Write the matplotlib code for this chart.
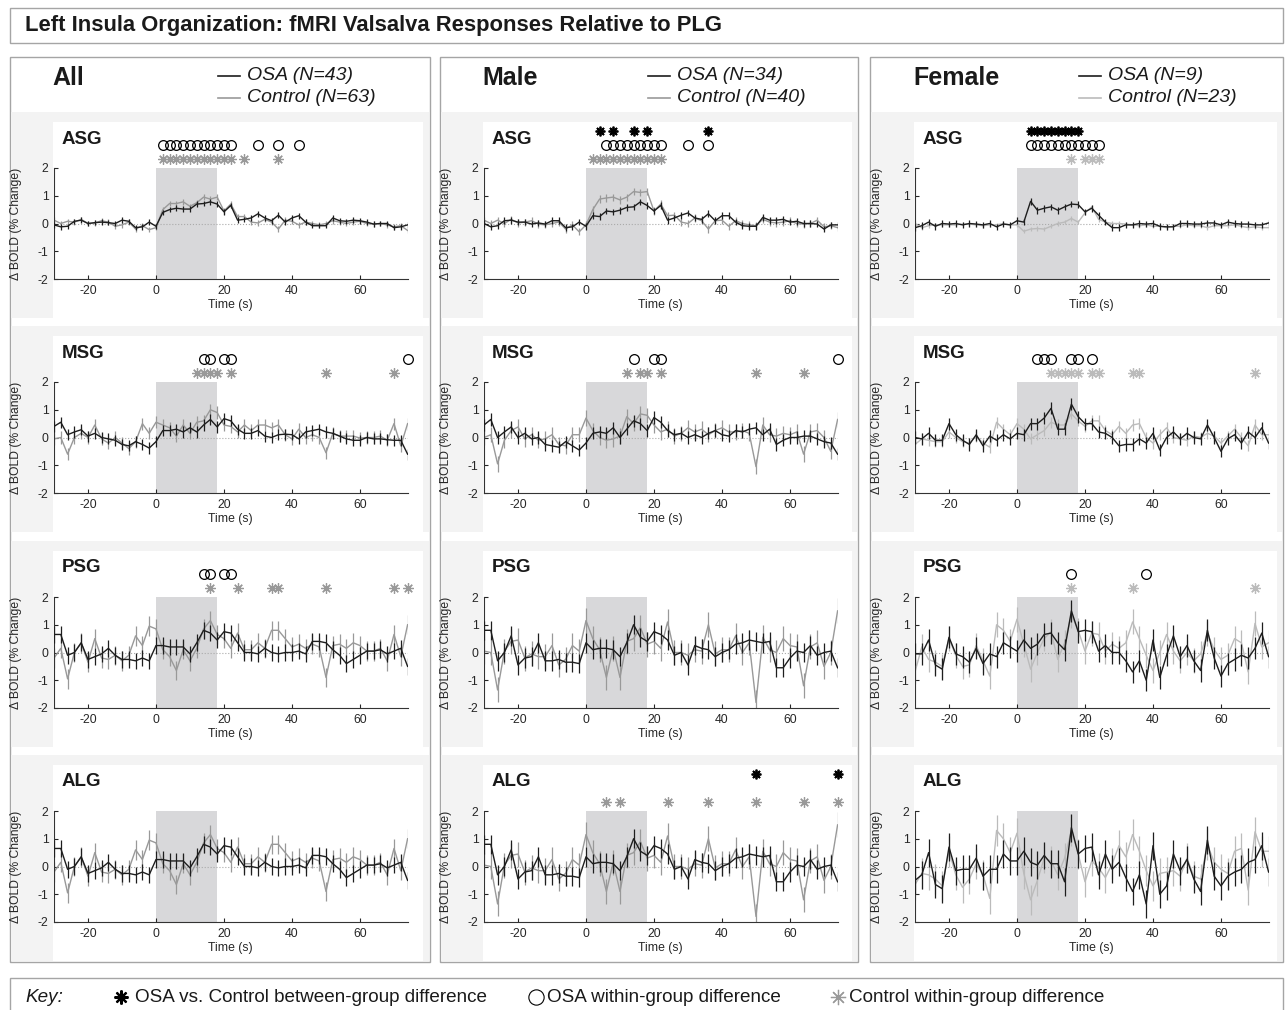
import matplotlib
matplotlib.use("Agg")
import matplotlib.pyplot as plt
from matplotlib.patches import Rectangle
import numpy as np

plt.rcParams["font.family"] = ["Liberation Sans", "DejaVu Sans"]
plt.rcParams["axes.unicode_minus"] = False

W, H = 1285, 1010

# sample times (s), TR = 2 s
TIME = np.arange(-30, 75, 2)

GROUPS = ["All", "Male", "Female"]
REGIONS = ["ASG", "MSG", "PSG", "ALG"]
LEGEND_OSA = ["OSA (N=43)", "OSA (N=34)", "OSA (N=9)"]
LEGEND_CTRL = ["Control (N=63)", "Control (N=40)", "Control (N=23)"]

# ---- mean % BOLD change ----
asg_all_osa = [-0.05, -0.12, -0.10, 0.08, 0.12, 0.00, 0.03, 0.05, 0.03, 0.00,
               0.12, 0.08, -0.15, -0.12, 0.05, -0.10, 0.40, 0.50, 0.55, 0.52,
               0.52, 0.70, 0.72, 0.78, 0.70, 0.42, 0.65, 0.12, 0.15, 0.20,
               0.35, 0.20, 0.10, 0.30, 0.05, 0.20, 0.28, 0.05, -0.08, -0.08,
               -0.08, 0.20, 0.10, 0.08, 0.12, 0.10, 0.05, -0.02, 0.00, 0.00, -0.15, -0.12, -0.05]
asg_all_ctl = [0.12, 0.00, 0.08, 0.05, 0.15, 0.00, 0.02, 0.10, 0.05, -0.10,
               -0.05, 0.05, -0.20, -0.08, -0.22, -0.15, 0.50, 0.72, 0.72, 0.78,
               0.62, 0.75, 0.95, 0.88, 0.95, 0.45, 0.70, 0.25, 0.25, 0.05,
               0.02, 0.15, 0.05, -0.20, 0.12, 0.08, -0.05, 0.05, 0.00, -0.05,
               0.00, 0.10, 0.05, 0.00, 0.05, 0.08, 0.00, -0.02, 0.00, -0.05, -0.12, -0.08, -0.25]
asg_male_osa = [0.00, -0.12, -0.08, 0.10, 0.12, 0.05, 0.05, -0.02, 0.02, -0.02,
                0.10, 0.10, -0.15, -0.12, 0.05, -0.10, 0.28, 0.25, 0.45, 0.42,
                0.48, 0.58, 0.60, 0.78, 0.65, 0.45, 0.65, 0.12, 0.20, 0.30,
                0.38, 0.20, 0.15, 0.35, 0.10, 0.28, 0.28, 0.05, -0.08, -0.10,
                -0.10, 0.22, 0.12, 0.12, 0.15, 0.05, 0.08, 0.00, 0.00, -0.02, -0.20, -0.05, -0.05]
asg_male_ctl = [0.12, 0.00, 0.12, 0.00, 0.15, 0.02, 0.05, 0.10, -0.02, -0.05,
                0.00, 0.05, -0.20, -0.05, -0.30, -0.05, 0.50, 0.88, 0.92, 0.95,
                0.85, 0.95, 1.15, 1.12, 1.15, 0.45, 0.70, 0.28, 0.30, 0.05,
                0.00, 0.20, 0.10, -0.20, 0.10, 0.12, -0.10, 0.10, 0.00, -0.05,
                -0.08, 0.15, 0.05, 0.02, 0.05, 0.10, 0.00, -0.02, 0.00, 0.12, -0.12, -0.08, -0.15]
asg_fem_osa = [-0.15, -0.08, 0.05, -0.10, 0.00, -0.02, 0.00, -0.05, 0.00, -0.02,
               -0.05, 0.00, -0.12, -0.02, -0.05, 0.10, 0.05, 0.80, 0.48, 0.55,
               0.60, 0.48, 0.60, 0.70, 0.68, 0.42, 0.55, 0.30, 0.05, -0.15,
               -0.15, -0.05, -0.05, 0.00, -0.02, 0.00, -0.10, -0.12, -0.12, 0.00,
               0.00, -0.02, -0.02, 0.02, 0.02, -0.05, 0.05, 0.00, -0.02, -0.02, -0.05, -0.05, 0.02]
asg_fem_ctl = [0.00, -0.15, -0.08, -0.05, -0.05, -0.05, -0.05, -0.02, -0.02, -0.05,
               -0.08, -0.05, -0.05, 0.00, -0.05, -0.05, -0.28, -0.20, -0.18, -0.20,
               -0.10, 0.00, 0.05, 0.18, 0.05, 0.38, 0.60, 0.15, 0.05, 0.00,
               0.00, -0.02, -0.05, -0.08, -0.05, -0.10, -0.10, -0.15, -0.10, -0.10,
               -0.05, -0.08, -0.08, -0.15, -0.08, -0.08, -0.08, -0.05, -0.10, -0.15, -0.12, -0.15, -0.15]

msg_all_osa = [0.40, 0.55, 0.10, 0.20, 0.28, 0.05, 0.15, 0.00, -0.05, -0.10,
               -0.25, -0.30, -0.15, -0.25, -0.38, -0.15, 0.25, 0.25, 0.30, 0.20,
               0.35, 0.20, 0.45, 0.65, 0.38, 0.68, 0.60, 0.30, 0.15, 0.15,
               0.25, 0.05, 0.00, 0.10, 0.12, 0.10, -0.05, 0.20, 0.25, 0.30,
               0.20, 0.15, 0.05, -0.05, -0.10, -0.10, 0.00, -0.05, -0.05, -0.08, -0.10, -0.10, -0.60]
msg_all_ctl = [-0.05, 0.00, -0.60, 0.00, 0.15, 0.00, 0.45, -0.05, -0.20, 0.00,
               -0.20, -0.40, -0.15, 0.50, 0.15, 0.55, 0.45, 0.35, 0.05, 0.45,
               0.15, 0.55, 0.60, 1.00, 0.90, 0.45, 0.40, 0.20, 0.45, 0.25,
               0.45, 0.45, 0.35, 0.45, 0.10, -0.05, 0.30, 0.00, 0.10, 0.00,
               -0.55, 0.15, 0.05, 0.05, 0.05, -0.02, 0.00, 0.00, 0.05, -0.10, 0.50, -0.30, 0.50]
msg_male_osa = [0.45, 0.65, 0.00, 0.20, 0.38, 0.00, 0.15, -0.05, 0.00, -0.25,
                -0.30, -0.35, -0.15, -0.30, -0.45, -0.20, 0.15, 0.20, 0.15, 0.35,
                0.00, 0.30, 0.60, 0.50, 0.25, 0.72, 0.55, 0.25, 0.10, 0.15,
                0.00, 0.10, 0.00, 0.15, 0.25, 0.10, 0.05, 0.25, 0.20, 0.30,
                0.35, 0.10, 0.30, -0.25, -0.10, 0.00, 0.00, 0.05, 0.05, -0.05, -0.15, -0.20, -0.60]
msg_male_ctl = [0.00, 0.10, -0.95, -0.10, 0.25, 0.38, -0.05, 0.10, -0.10, -0.05,
                0.10, -0.25, -0.30, 0.10, 0.10, 0.70, 0.25, 0.00, -0.10, -0.05,
                0.05, 0.75, 0.50, 0.85, 0.80, 0.45, 0.20, 0.30, 0.05, 0.15,
                0.35, 0.20, 0.30, 0.10, 0.25, 0.35, 0.20, 0.20, 0.25, 0.15,
                -1.05, 0.45, 0.10, 0.05, 0.15, 0.10, 0.20, -0.60, 0.20, 0.25, 0.00, -0.50, 0.65]
msg_fem_osa = [0.00, -0.05, 0.15, -0.10, -0.10, 0.50, 0.10, -0.10, -0.25, 0.10,
               -0.30, 0.05, -0.10, 0.10, -0.05, 0.15, 0.10, 0.50, 0.50, 0.70,
               1.05, 0.30, 0.30, 1.20, 0.75, 0.50, 0.50, 0.20, 0.15, 0.00,
               -0.30, -0.25, -0.25, -0.05, -0.20, 0.15, -0.45, 0.00, 0.20, -0.05,
               0.15, 0.00, -0.05, 0.45, 0.00, -0.50, -0.05, 0.10, -0.20, 0.20, 0.00, 0.35, -0.20]
msg_fem_ctl = [-0.25, -0.05, -0.10, -0.15, -0.15, 0.20, 0.00, -0.15, -0.20, 0.05,
               -0.20, -0.35, 0.55, 0.30, 0.10, 0.50, 0.30, -0.05, 0.10, 0.25,
               0.55, 0.45, 0.45, 0.85, 0.60, 0.40, 0.60, 0.60, 0.25, 0.10,
               0.40, 0.15, 0.45, 0.50, 0.00, -0.20, 0.10, 0.35, 0.00, -0.05,
               -0.10, 0.05, 0.00, 0.15, 0.05, -0.20, 0.05, 0.30, 0.00, -0.30, 0.45, 0.10, 0.10]

psg_all_osa = [0.65, 0.65, -0.10, 0.00, 0.35, -0.25, -0.15, -0.05, 0.15, -0.10,
               -0.25, -0.25, -0.30, -0.20, -0.30, 0.25, 0.25, 0.20, 0.20, 0.20,
               -0.05, 0.35, 0.80, 0.70, 0.45, 0.75, 0.70, 0.35, 0.00, 0.00,
               -0.05, 0.15, 0.00, -0.05, 0.00, 0.00, 0.05, -0.05, 0.40, 0.40,
               0.35, 0.10, -0.10, -0.40, -0.25, -0.10, 0.05, 0.05, 0.10, -0.05, 0.05, 0.15, -0.50]
psg_all_ctl = [-0.20, 0.15, -0.95, 0.00, 0.35, -0.35, 0.50, -0.20, -0.25, -0.10,
               -0.30, -0.10, 0.60, 0.25, 0.95, 0.85, 0.10, -0.15, -0.65, 0.10,
               -0.30, 0.15, 0.85, 1.15, 0.65, 0.50, 0.15, 0.70, 0.10, 0.10,
               0.35, 0.15, 0.80, 0.80, 0.50, 0.20, 0.30, 0.15, 0.30, 0.20,
               -0.90, 0.25, 0.30, 0.15, 0.35, 0.25, 0.05, 0.05, 0.15, -0.30, 0.65, -0.15, 1.00]
psg_male_osa = [0.80, 0.80, -0.30, 0.00, 0.60, -0.45, -0.20, -0.15, 0.35, -0.30,
                -0.30, -0.25, -0.35, -0.35, -0.40, 0.35, 0.10, 0.15, 0.15, 0.10,
                -0.15, 0.35, 1.00, 0.55, 0.40, 0.75, 0.65, 0.45, -0.10, 0.00,
                -0.45, 0.25, 0.15, 0.10, -0.15, 0.00, 0.10, 0.30, 0.35, 0.45,
                0.40, 0.35, 0.40, -0.55, -0.55, -0.20, 0.05, 0.00, 0.25, -0.10, 0.00, 0.05, -0.55]
psg_male_ctl = [0.05, 0.00, -1.35, 0.05, 0.40, 0.45, -0.20, -0.05, -0.15, -0.15,
                0.25, -0.45, -0.25, 0.25, 0.05, 1.15, 0.50, 0.10, -0.90, 0.15,
                -0.90, 0.40, 0.50, 0.90, 0.30, 0.40, 0.15, 1.10, 0.00, 0.00,
                -0.10, 0.10, 0.05, 1.00, -0.05, 0.10, 0.10, 0.60, 0.00, 0.35,
                -1.80, 0.55, 0.10, 0.00, 0.50, 0.25, 0.20, -1.20, 0.20, 0.35, -0.50, 0.00, 1.50]
psg_fem_osa = [-0.05, -0.05, 0.45, -0.45, -0.60, 0.55, -0.05, -0.15, -0.35, 0.15,
               -0.40, -0.05, -0.15, 0.35, 0.20, 0.05, 0.45, 0.15, 0.30, 0.65,
               0.70, 0.35, 0.10, 1.50, 0.75, 0.80, 0.75, 0.05, 0.25, 0.00,
               0.00, -0.30, -0.70, -0.30, -1.00, 0.45, -0.90, -0.10, 0.60, -0.15,
               0.25, -0.30, -0.65, 0.80, -0.20, -0.85, -0.40, -0.25, -0.10, -0.20, 0.15, 0.70, -0.15]
psg_fem_ctl = [-0.70, 0.20, -0.25, -0.35, -0.50, 0.50, -0.10, -0.50, -0.45, 0.25,
               -0.30, -0.85, 1.00, 0.80, 0.40, 1.20, 0.30, -0.60, 0.00, 0.50,
               0.75, -0.25, 0.35, 1.35, 0.80, 0.05, 0.70, 0.65, 0.05, 0.30,
               0.15, 0.35, 1.10, 0.50, -0.10, -0.65, 0.00, 0.65, 0.05, -0.30,
               0.00, -0.30, -0.05, 0.70, 0.10, -0.25, -0.10, 0.50, 0.35, -0.70, 1.05, 0.20, 0.35]

# ALG curves for All and Male are drawn identical to PSG in the source figure
alg_all_osa = psg_all_osa
alg_all_ctl = psg_all_ctl
alg_male_osa = psg_male_osa
alg_male_ctl = psg_male_ctl
alg_fem_osa = [-0.50, -0.30, 0.50, -0.65, -0.80, 0.70, -0.15, -0.10, -0.10, 0.30,
               -0.35, -0.10, -0.10, 0.45, 0.20, 0.20, 0.55, 0.15, 0.05, 0.40,
               0.10, 0.10, -0.55, 1.40, 0.45, 0.65, 0.70, -0.30, 0.45, -0.10,
               0.15, -0.40, -0.90, -0.30, -1.35, 0.75, -1.00, -0.70, 0.45, -0.15,
               0.25, -0.45, -0.90, 0.95, -0.35, -0.70, -0.35, -0.20, -0.10, 0.15, 0.25, 0.75, -0.20]
alg_fem_ctl = [-0.65, -0.25, -0.30, -0.45, -0.70, 0.55, -0.30, -0.75, -0.45, 0.10,
               -0.30, -1.15, 1.30, 1.00, 0.50, 1.20, -0.25, -1.20, -0.50, 0.30,
               0.20, -0.30, 0.30, 1.30, 0.45, -0.55, 0.20, -0.05, -0.40, 0.10,
               0.75, 0.35, 1.15, 0.55, -0.15, -0.70, -0.25, -0.20, -0.15, -0.35,
               0.30, -0.35, -0.45, 0.80, 0.15, -0.10, -0.25, 0.55, 0.65, -0.85, 1.25, 0.55, 0.55]

# rows = region, cols = group
OSA = [[asg_all_osa, asg_male_osa, asg_fem_osa],
       [msg_all_osa, msg_male_osa, msg_fem_osa],
       [psg_all_osa, psg_male_osa, psg_fem_osa],
       [alg_all_osa, alg_male_osa, alg_fem_osa]]
CTL = [[asg_all_ctl, asg_male_ctl, asg_fem_ctl],
       [msg_all_ctl, msg_male_ctl, msg_fem_ctl],
       [psg_all_ctl, psg_male_ctl, psg_fem_ctl],
       [alg_all_ctl, alg_male_ctl, alg_fem_ctl]]

# standard error (approximate, per curve)
SEM_OSA = [[0.10, 0.12, 0.12], [0.20, 0.22, 0.22], [0.30, 0.35, 0.40], [0.30, 0.35, 0.50]]
SEM_CTL = [[0.10, 0.13, 0.08], [0.22, 0.28, 0.20], [0.35, 0.45, 0.45], [0.35, 0.45, 0.55]]

# significance markers (time points, s)
BETWEEN = [[[], [4, 8, 14, 18, 36], [4, 6, 8, 10, 12, 14, 16, 18]],
           [[], [], []],
           [[], [], []],
           [[], [50, 74], []]]
OSA_WITHIN = [[[2, 4, 6, 8, 10, 12, 14, 16, 18, 20, 22, 30, 36, 42],
               [6, 8, 10, 12, 14, 16, 18, 20, 22, 30, 36],
               [4, 6, 8, 10, 12, 14, 16, 18, 20, 22, 24]],
              [[14, 16, 20, 22, 74], [14, 20, 22, 74], [6, 8, 10, 16, 18, 22]],
              [[14, 16, 20, 22], [], [16, 38]],
              [[], [], []]]
CTL_WITHIN = [[[2, 4, 6, 8, 10, 12, 14, 16, 18, 20, 22, 26, 36],
               [2, 4, 6, 8, 10, 12, 14, 16, 18, 20, 22],
               [16, 20, 22, 24]],
              [[12, 14, 16, 18, 22, 50, 70], [12, 16, 18, 22, 50, 64],
               [10, 12, 14, 16, 18, 22, 24, 34, 36, 70]],
              [[16, 24, 34, 36, 50, 70, 74], [], [16, 34, 70]],
              [[], [6, 10, 24, 36, 50, 64, 74], []]]

OSA_COLOR = "#1e1e1e"
CTL_COLORS = ["#999999", "#999999", "#bbbbbb"]
BOX_EDGE = "#a5a5a5"
BAND = "#f3f3f3"

# layout in pixels
COL_BOX = [(10, 430), (440, 858), (870, 1283)]
AX_LEFT = [54, 484, 915]
AX_TOP = [168, 382, 597, 811]
AX_W, AX_H = 353.6, 111

fig = plt.figure(figsize=(W / 100, H / 100), dpi=100)
bg = fig.add_axes([0, 0, 1, 1], zorder=-10)
bg.set_xlim(0, W)
bg.set_ylim(H, 0)
bg.axis("off")


def rect(x, y, w, h, fc="white", ec="none", lw=1.0):
    bg.add_patch(Rectangle((x, y), w, h, facecolor=fc, edgecolor=ec, linewidth=lw))


# title box
rect(10, 8, 1273, 35, ec=BOX_EDGE)
bg.text(25, 26, "Left Insula Organization: fMRI Valsalva Responses Relative to PLG",
        fontsize=15.8, fontweight="bold", va="center", ha="left", color="#1a1a1a")

for c, (x0, x1) in enumerate(COL_BOX):
    rect(x0, 57, x1 - x0, 905, ec=BOX_EDGE)
    L = AX_LEFT[c]
    bg.text(L - 2, 78, GROUPS[c], fontsize=18, fontweight="bold", va="center", color="#1a1a1a")
    lx = L + 164
    bg.plot([lx, lx + 22], [76, 76], color=OSA_COLOR, lw=1.2)
    bg.plot([lx, lx + 22], [98, 98], color=CTL_COLORS[c], lw=1.2)
    bg.text(lx + 29, 76, LEGEND_OSA[c], fontsize=14, style="italic", va="center", color="#1a1a1a")
    bg.text(lx + 29, 98, LEGEND_CTRL[c], fontsize=14, style="italic", va="center", color="#1a1a1a")
    for r, T in enumerate(AX_TOP):
        band_bottom = min(T + 150, 961)
        rect(x0 + 1, T - 56, x1 - x0 - 2, band_bottom - (T - 56), fc=BAND)
        right = min(L + 369, x1 - 6)
        rect(L - 1, T - 46, right - (L - 1), band_bottom - (T - 46))
        bg.text(L + 8, T - 29, REGIONS[r], fontsize=13.5, fontweight="bold",
                va="center", color="#1a1a1a")

# key box
rect(10, 978, 1273, 45, ec=BOX_EDGE)
bg.text(25, 997, "Key:", fontsize=13.6, style="italic", va="center", color="#1a1a1a")
bg.plot(121, 997, marker=(8, 2, 0), ms=10, mew=1.6, color="black")
bg.text(135, 997, "OSA vs. Control between-group difference", fontsize=13.6, va="center", color="#1a1a1a")
bg.plot(536, 997, marker="o", ms=11, mfc="none", mec="black", mew=0.8)
bg.text(547, 997, "OSA within-group difference", fontsize=13.6, va="center", color="#1a1a1a")
bg.plot(838, 997, marker=(8, 2, 0), ms=11, mew=0.9, color="#999999")
bg.text(849, 997, "Control within-group difference", fontsize=13.6, va="center", color="#1a1a1a")

for r, T in enumerate(AX_TOP):
    for c in range(3):
        L = AX_LEFT[c]
        ax = fig.add_axes([L / W, 1 - (T + AX_H) / H, AX_W / W, AX_H / H])
        ax.set_facecolor("none")
        ax.axvspan(0, 18, color="#d8d8da", lw=0, zorder=0)
        ax.axhline(0, color="#aaaaaa", lw=0.8, ls=":", zorder=1)
        ax.errorbar(TIME, CTL[r][c], yerr=SEM_CTL[r][c], color=CTL_COLORS[c],
                    lw=1.0, elinewidth=0.9, capsize=0, zorder=2)
        ax.errorbar(TIME, OSA[r][c], yerr=SEM_OSA[r][c], color=OSA_COLOR,
                    lw=1.0, elinewidth=0.9, capsize=0, zorder=3)
        ax.set_xlim(-30, 74)
        ax.set_ylim(-2, 2)
        ax.set_xticks([-20, 0, 20, 40, 60])
        ax.set_yticks([-2, -1, 0, 1, 2])
        for s in ("top", "right"):
            ax.spines[s].set_visible(False)
        for s in ("left", "bottom"):
            ax.spines[s].set_color("#333333")
            ax.spines[s].set_linewidth(0.8)
        ax.tick_params(direction="in", length=3, width=0.8, labelsize=8.8,
                       colors="#262626", pad=4)
        ax.set_xlabel("Time (s)", fontsize=8.8, color="#262626")
        ax.xaxis.set_label_coords(0.5, -0.18)
        ax.set_ylabel("Δ BOLD (% Change)", fontsize=8.7, color="#262626")
        ax.yaxis.set_label_coords(-0.09, 0.5)

        b = BETWEEN[r][c]
        if b:
            ax.plot(b, [3.33] * len(b), ls="none", marker=(8, 2, 0), ms=7, mew=1.3,
                    color="black", clip_on=False, zorder=5)
        o = OSA_WITHIN[r][c]
        if o:
            ax.plot(o, [2.83] * len(o), ls="none", marker="o", ms=7, mfc="none",
                    mec="black", mew=0.9, clip_on=False, zorder=5)
        g = CTL_WITHIN[r][c]
        if g:
            ax.plot(g, [2.32] * len(g), ls="none", marker=(8, 2, 0), ms=7.5, mew=0.9,
                    color=CTL_COLORS[c], clip_on=False, zorder=5)

fig.savefig("out.png", dpi=100)
